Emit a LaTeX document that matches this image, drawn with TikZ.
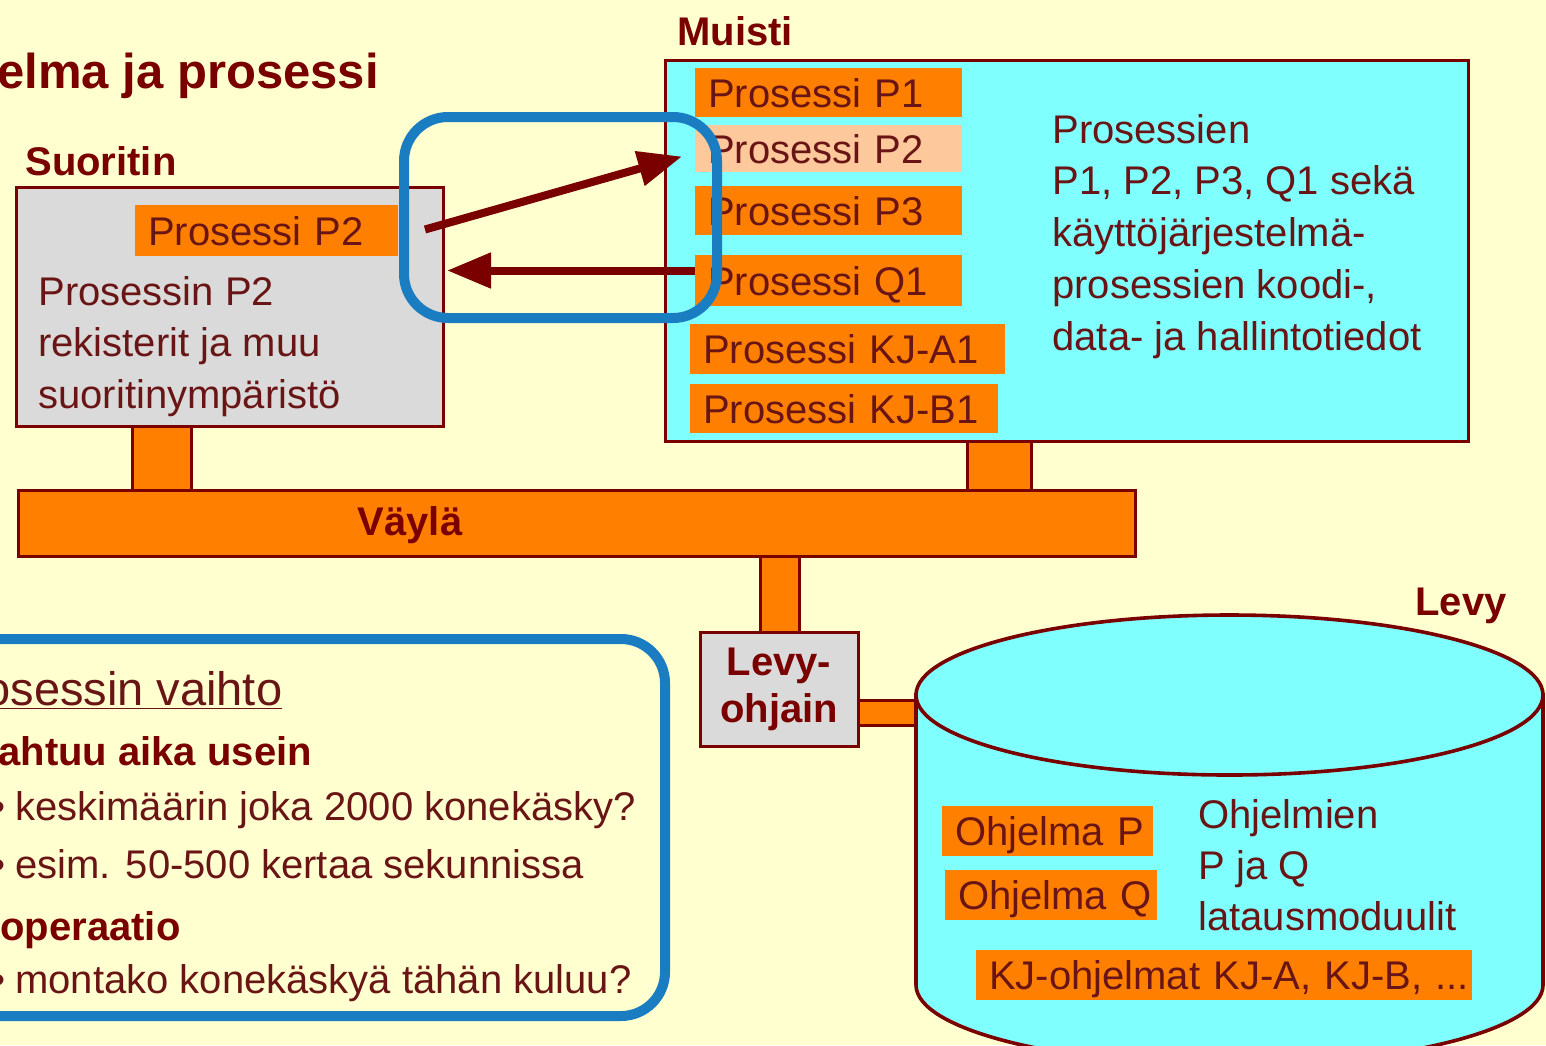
\documentclass[tikz,border=0pt]{standalone}
\usepackage{fontspec}
\setmainfont{Liberation Sans}
\usetikzlibrary{arrows.meta,calc}
\definecolor{bg}{HTML}{FFFFD0}
\definecolor{org}{HTML}{FF8000}
\definecolor{lorg}{HTML}{FCC89C}
\definecolor{cyn}{HTML}{80FFFF}
\definecolor{gry}{HTML}{DADADA}
\definecolor{dred}{HTML}{7A0000}
\definecolor{txt}{HTML}{6A1515}
\definecolor{blu}{HTML}{1B7DC1}
\begin{document}
\begin{tikzpicture}[x=0.5pt,y=-0.5pt,
  frame/.style={draw=dred,line width=1.5pt,outer sep=0pt,inner sep=0pt},
  obox/.style={fill=org,anchor=west,inner xsep=6.5pt,inner ysep=0pt,outer sep=0pt,
     text=txt,font=\fontsize{20}{24}\selectfont,align=left,text height=16pt,text depth=1.5pt},
  lbl/.style={anchor=base west,inner sep=0pt,text=dred,font=\bfseries\fontsize{20}{24}\selectfont},
  txtl/.style={anchor=base west,inner sep=0pt,text=txt,font=\fontsize{20}{24}\selectfont},
  bar/.style={fill=org,draw=dred,line width=1.5pt},
  arr/.style={draw=dred,line width=4pt,-{Triangle[length=22pt,width=17pt]}},
  bluebox/.style={draw=blu,line width=5pt,rounded corners=22pt}
]
\useasboundingbox (0,0) rectangle (1546,1045);
\clip (0,0) rectangle (1546,1045);
\fill[bg] (0,0) rectangle (1546,1045);

% title and labels
\node[lbl,font=\bfseries\fontsize{24.5}{28}\selectfont] (title) at (-3,88) {elma ja prosessi};
\node[lbl] (muisti) at (677,45) {Muisti};
\node[lbl] (suor) at (25,175) {Suoritin};
\node[lbl] (levy) at (1415,615) {Levy};

% memory
\node[frame,fill=cyn,minimum width=401.5pt,minimum height=190.5pt,anchor=north west] (mem) at (665,60) {};
\node[obox,text width=120.5pt,minimum height=24.5pt] (mp1) at (695,92.5) {Prosessi P1};
\node[obox,fill=lorg,text width=120.5pt,minimum height=23.5pt] (mp2) at (695,148.5) {Prosessi P2};
\node[obox,text width=120.5pt,minimum height=24.5pt] (mp3) at (695,210.5) {Prosessi P3};
\node[obox,text width=120.5pt,minimum height=25.5pt] (mq1) at (695,280.5) {Prosessi Q1};
\node[obox,text width=144.5pt,minimum height=25pt] (mka) at (690,349) {Prosessi KJ-A1};
\node[obox,text width=141pt,minimum height=24.5pt] (mkb) at (690,408.5) {Prosessi KJ-B1};
\foreach \t [count=\i] in {Prosessien,{P1, P2, P3, Q1 sekä},käyttöjärjestelmä-,{prosessien koodi-,},data- ja hallintotiedot}
  \node[txtl] (mt\i) at (1052,{143+51.75*(\i-1)}) {\t};

% processor
\node[frame,fill=gry,minimum width=213.5pt,minimum height=119.5pt,anchor=north west] (cpu) at (16,187) {};
\node[obox,text width=118.5pt,minimum height=25.5pt] (sp2) at (135,230.5) {Prosessi P2};
\foreach \t [count=\i] in {Prosessin P2,rekisterit ja muu,suoritinympäristö}
  \node[txtl] (ct\i) at (38,{305+51.5*(\i-1)}) {\t};

% bus
\node[frame,fill=org,minimum width=558.5pt,minimum height=33pt,anchor=north west] (bus) at (18,490) {};
\node[lbl,anchor=center] (vayla) at (410,525) {Väylä};
\draw[bar] ($(cpu.south west)+(116,0)$) rectangle ($(bus.north west)+(173,0)$);
\draw[bar] ($(mem.south west)+(302,0)$) rectangle ($(bus.north west)+(1013,0)$);

% disk controller
\node[frame,fill=gry,minimum width=79pt,minimum height=57pt,anchor=north west,
  align=center,text=dred,font=\bfseries\fontsize{20}{23.5}\selectfont] (ctl) at (700,632) {Levy-\\ohjain};
\draw[bar] ($(bus.south west)+(742,0)$) rectangle ($(ctl.north west)+(99,0)$);
\draw[bar] ($(ctl.north east)+(0,68)$) rectangle ($(ctl.north east)+(75,93)$);

% disk
\coordinate (dc) at (1229.5,695);
\filldraw[fill=cyn,draw=dred,line width=1.8pt] (916,695) -- (916,985)
   arc[start angle=180,end angle=0,x radius=313.5,y radius=80] -- (1543,695) -- cycle;
\filldraw[fill=cyn,draw=dred,line width=1.8pt] (dc) ellipse[x radius=313.5,y radius=80];
\node[obox,text width=92.5pt,minimum height=25pt] (op) at (942,831) {\mbox{Ohjelma P}};
\node[obox,text width=93pt,minimum height=25pt] (oq) at (945,895) {\mbox{Ohjelma Q}};
\node[obox,text width=235pt,minimum height=25pt] (okj) at (976,975) {\mbox{KJ-ohjelmat KJ-A, KJ-B, ...}};
\foreach \t [count=\i] in {Ohjelmien,P ja Q,latausmoduulit}
  \node[txtl] (dt\i) at (1198,{828+51*(\i-1)}) {\t};

% arrows
\draw[arr] ($(sp2.east)+(27,-1)$) -- ($(mp2.west)+(-13,8)$);
\draw[arr] ($(mq1.west)+(0,-10)$) -- ($(cpu.east)+(4,-36)$);

% blue frames
\draw[bluebox] (404,117) rectangle (717,318);
\draw[bluebox] (-60,639) rectangle (665,1016);

% lower-left text
\node[txtl,font=\fontsize{23.5}{28}\selectfont] (lt1) at (-16,705) {\underline{osessin vaihto}};
\node[lbl] (lt2) at (-2,765) {ahtuu aika usein};
\node[txtl,anchor=base east] (b1) at (6,820) {•};
\node[txtl] (lt3) at (15,820) {keskimäärin joka 2000 konekäsky?};
\node[txtl,anchor=base east] (b2) at (6,878) {•};
\node[txtl] (lt4) at (15,878) {esim. 50-500 kertaa sekunnissa};
\node[lbl] (lt5) at (0,940) {operaatio};
\node[txtl,anchor=base east] (b3) at (6,993) {•};
\node[txtl] (lt6) at (15,993) {montako konekäskyä tähän kuluu?};
\end{tikzpicture}
\end{document}
